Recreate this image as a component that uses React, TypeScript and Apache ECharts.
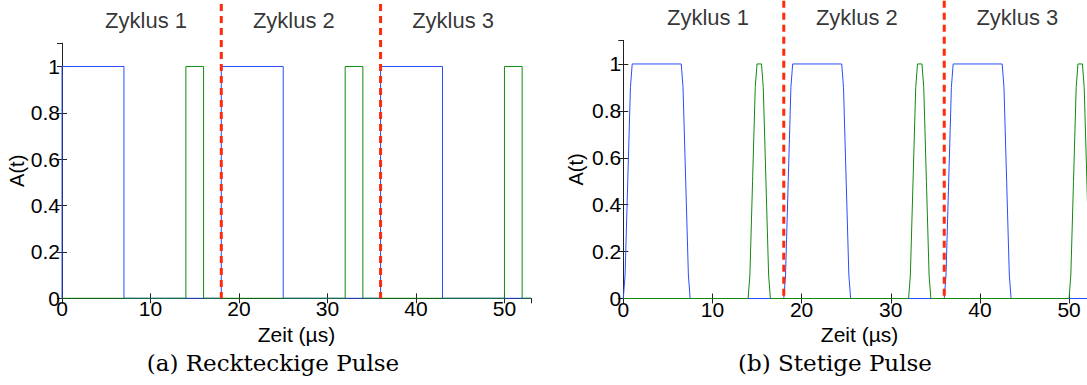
import React, { useEffect, useRef } from "react";
import * as echarts from "echarts";

// ---- data ----
const xMin = 0;
const xMax = 53;
const yMin = 0;
const yMax = 1.1;
const topValue = 1.27; // top end of the cycle separators
const labelValue = 1.2; // height of cycle labels

const cycleBoundaries = [18, 36];
const cycleNames = ["Zyklus 1", "Zyklus 2", "Zyklus 3"];
const cycleLabelX = [9.5, 26.2, 44.2];

// (a) rectangular pulses
const rectBlue: number[][] = [
  [0, 0], [0, 1], [7, 1], [7, 0],
  [18, 0], [18, 1], [25, 1], [25, 0],
  [36, 0], [36, 1], [43, 1], [43, 0],
  [53, 0],
];
const rectGreen: number[][] = [
  [0, 0], [14, 0], [14, 1], [16, 1], [16, 0],
  [32, 0], [32, 1], [34, 1], [34, 0],
  [50, 0], [50, 1], [52, 1], [52, 0],
  [53, 0],
];

// (b) smooth pulses
const smoothBlue: number[][] = [
  [0, 0], [0.2, 0.1], [0.5, 0.5], [0.8, 0.9], [1, 1],
  [6.5, 1], [6.7, 0.9], [7, 0.5], [7.3, 0.1], [7.5, 0],
  [18, 0], [18.2, 0.1], [18.5, 0.5], [18.8, 0.9], [19, 1],
  [24.5, 1], [24.7, 0.9], [25, 0.5], [25.3, 0.1], [25.5, 0],
  [36, 0], [36.2, 0.1], [36.5, 0.5], [36.8, 0.9], [37, 1],
  [42.5, 1], [42.7, 0.9], [43, 0.5], [43.3, 0.1], [43.5, 0],
  [53, 0],
];
const smoothGreen: number[][] = [
  [0, 0], [14, 0], [14.2, 0.1], [14.5, 0.5], [14.8, 0.9], [15, 1],
  [15.5, 1], [15.7, 0.9], [16, 0.5], [16.3, 0.1], [16.5, 0],
  [32, 0], [32.2, 0.1], [32.5, 0.5], [32.8, 0.9], [33, 1],
  [33.5, 1], [33.7, 0.9], [34, 0.5], [34.3, 0.1], [34.5, 0],
  [50, 0], [50.2, 0.1], [50.5, 0.5], [50.8, 0.9], [51, 1],
  [51.5, 1], [51.7, 0.9], [52, 0.5], [52.3, 0.1], [52.5, 0],
  [53, 0],
];

const captions = ["(a) Reckteckige Pulse", "(b) Stetige Pulse"];
const xName = "Zeit (µs)";
const yName = "A(t)";

// ---- styles ----
const BLUE = "#2b4dff";
const GREEN = "#128a12";
const RED = "#ff2a0a";
const AXIS = "#222";
const SANS = "'Liberation Sans', Arial, sans-serif";

function buildPanel(gridIndex: number, blue: number[][], green: number[][], yNameGap: number) {
  const xb = gridIndex * 2;
  const yb = gridIndex * 2;
  const tick = { show: true, inside: true, length: 5, lineStyle: { color: AXIS, width: 1 } };
  const line = { show: true, lineStyle: { color: AXIS, width: 1 } };
  const xAxes = [
    {
      type: "value", gridIndex, position: "bottom", min: xMin, max: xMax, interval: 10,
      axisLine: line, axisTick: tick, splitLine: { show: false },
      axisLabel: {
        show: true, margin: 0, showMaxLabel: false,
        textStyle: { fontFamily: SANS, fontSize: 21, color: "#000" },
        fontFamily: SANS, fontSize: 21, color: "#000",
      },
      name: xName, nameLocation: "middle", nameGap: 20,
      nameTextStyle: { fontFamily: SANS, fontSize: 21, color: "#000" },
    },
    {
      type: "value", gridIndex, position: "top", min: xMin, max: xMax, interval: 10,
      axisLine: line, axisTick: tick, splitLine: { show: false }, axisLabel: { show: false },
    },
  ];
  const yAxes = [
    {
      type: "value", gridIndex, position: "left", min: yMin, max: yMax, interval: 0.2,
      axisLine: line, axisTick: tick, splitLine: { show: false },
      axisLabel: {
        show: true, margin: 2, showMaxLabel: false,
        textStyle: { fontFamily: SANS, fontSize: 21, color: "#000" },
        fontFamily: SANS, fontSize: 21, color: "#000",
      },
      name: yName, nameLocation: "middle", nameGap: yNameGap,
      nameTextStyle: { fontFamily: SANS, fontSize: 20, color: "#000" },
    },
    {
      type: "value", gridIndex, position: "right", min: yMin, max: yMax, interval: 0.2,
      axisLine: line, axisTick: tick, splitLine: { show: false }, axisLabel: { show: false },
    },
  ];
  const series: any[] = [
    {
      type: "line", xAxisIndex: xb, yAxisIndex: yb, data: blue, showSymbol: false, symbol: "none",
      lineStyle: { color: BLUE, width: 1 }, z: 2,
    },
    {
      type: "line", xAxisIndex: xb, yAxisIndex: yb, data: green, showSymbol: false, symbol: "none",
      lineStyle: { color: GREEN, width: 1 }, z: 3,
    },
    ...cycleBoundaries.map((b) => ({
      type: "line", xAxisIndex: xb, yAxisIndex: yb, data: [[b, topValue], [b, 0]],
      showSymbol: false, symbol: "none", clip: false,
      lineStyle: { color: RED, width: 3, type: [7, 5] }, z: 5,
    })),
    {
      type: "scatter", xAxisIndex: xb, yAxisIndex: yb, clip: false, symbolSize: 0,
      data: cycleNames.map((n, i) => ({ name: n, value: [cycleLabelX[i], labelValue] })),
      label: {
        show: true, position: "inside", formatter: (p: any) => p.name,
        fontFamily: SANS, fontSize: 22, color: "#000",
      },
      z: 6,
    },
  ];
  return { xAxes, yAxes, series };
}

export default function App() {
  const ref = useRef<HTMLDivElement>(null);
  useEffect(() => {
    document.body.style.margin = "0";
    if (!ref.current) return;
    const chart = echarts.init(ref.current, null, { renderer: "svg" });
    const a = buildPanel(0, rectBlue, rectGreen, 32);
    const b = buildPanel(1, smoothBlue, smoothGreen, 37);
    const capStyle = {
      fontFamily: "DejaVu Serif, serif", fontSize: 23, fill: "#000",
      align: "center", verticalAlign: "middle",
    };
    chart.setOption({
      animation: false,
      backgroundColor: "#fff",
      textStyle: { fontFamily: SANS, color: "#000" },
      grid: [
        { left: 62, top: 43.3, width: 469, height: 255, outerBoundsMode: "none", containLabel: false },
        { left: 623.3, top: 40.5, width: 472.5, height: 258, outerBoundsMode: "none", containLabel: false },
      ],
      xAxis: [...a.xAxes, ...b.xAxes],
      yAxis: [...a.yAxes, ...b.yAxes],
      series: [...a.series, ...b.series],
      graphic: [
        { type: "text", x: 273, y: 363, style: { ...capStyle, text: captions[0] } },
        { type: "text", x: 835, y: 363, style: { ...capStyle, text: captions[1] } },
      ],
    });
    return () => chart.dispose();
  }, []);
  return <div ref={ref} style={{ width: 1087, height: 385 }} />;
}
